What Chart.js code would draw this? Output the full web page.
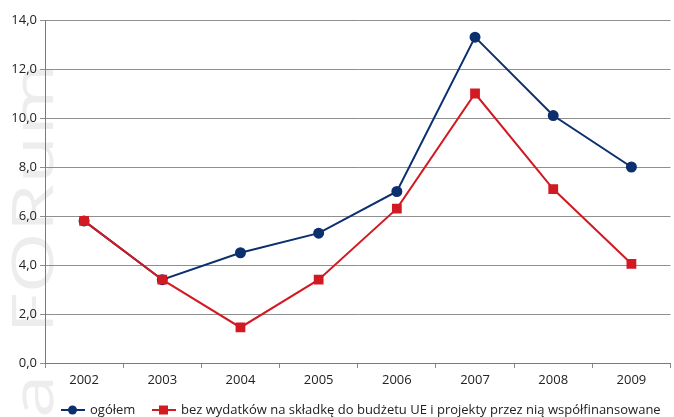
<!DOCTYPE html>
<html>
<head>
<meta charset="utf-8">
<script src="https://cdn.jsdelivr.net/npm/chart.js@4/dist/chart.umd.min.js"></script>
<style>
  html, body { margin: 0; padding: 0; background: #fff; overflow: hidden; }
  #wrap { width: 674px; height: 417px; position: relative; overflow: hidden; }
</style>
</head>
<body>
<div id="wrap"><canvas id="c" width="678" height="417"></canvas></div>
<script>
// Years on the x axis
const years = ['2002', '2003', '2004', '2005', '2006', '2007', '2008', '2009'];
// Total
const ogolem = [5.8, 3.4, 4.5, 5.3, 7.0, 13.3, 10.1, 8.0];
// Excluding EU budget contribution and co-financed projects
const bezWydatkow = [5.8, 3.4, 1.45, 3.4, 6.3, 11.0, 7.1, 4.05];
// Series names
const seriesNames = ['ogółem', 'bez wydatków na składkę do budżetu UE i projekty przez nią współfinansowane'];

const NAVY = '#0c2f6e';
const RED = '#d21a22';
const FONT = '"Open Sans", "Liberation Sans", sans-serif';

// Faint vertical logo text behind the chart
const watermark = {
  id: 'watermark',
  beforeDraw(chart) {
    const ctx = chart.ctx;
    ctx.save();
    ctx.translate(53, 418);
    ctx.rotate(-Math.PI / 2);
    ctx.scale(1.4, 1);
    ctx.fillStyle = '#ededed';
    ctx.font = '56px ' + FONT;
    ctx.textBaseline = 'alphabetic';
    ctx.fillText('a  FORum', 0, 0);
    ctx.restore();
  }
};

// Bottom legend: short line with a marker, followed by the series name
const lineLegend = {
  id: 'lineLegend',
  afterDraw(chart) {
    const ctx = chart.ctx;
    const y = 410;
    const items = [
      { x: 61, ds: chart.data.datasets[0] },
      { x: 152, ds: chart.data.datasets[1] }
    ];
    ctx.save();
    ctx.font = '13px ' + FONT;
    ctx.textBaseline = 'middle';
    items.forEach(it => {
      ctx.strokeStyle = it.ds.borderColor;
      ctx.lineWidth = 2;
      ctx.beginPath();
      ctx.moveTo(it.x, y);
      ctx.lineTo(it.x + 24, y);
      ctx.stroke();
      ctx.fillStyle = it.ds.borderColor;
      const cx = it.x + 11.5;
      if (it.ds.pointStyle === 'rect') {
        ctx.fillRect(cx - 4.5, y - 4.5, 9, 9);
      } else {
        ctx.beginPath();
        ctx.arc(cx, y, 4.5, 0, Math.PI * 2);
        ctx.fill();
      }
      ctx.fillStyle = '#222';
      ctx.fillText(it.ds.label, it.x + 29, y);
    });
    ctx.restore();
  }
};

new Chart(document.getElementById('c'), {
  type: 'line',
  data: {
    labels: years,
    datasets: [
      {
        label: seriesNames[0],
        data: ogolem,
        borderColor: NAVY,
        backgroundColor: NAVY,
        borderWidth: 2,
        pointStyle: 'circle',
        pointRadius: 4.5,
        pointHoverRadius: 4.5,
        tension: 0,
        order: 1
      },
      {
        label: seriesNames[1],
        data: bezWydatkow,
        borderColor: RED,
        backgroundColor: RED,
        borderWidth: 2,
        pointStyle: 'rect',
        pointRadius: 5.5,
        pointHoverRadius: 5.5,
        tension: 0,
        order: 0
      }
    ]
  },
  options: {
    responsive: false,
    animation: false,
    layout: { padding: { top: 20, right: 0, bottom: 30, left: 0 } },
    plugins: {
      legend: { display: false },
      tooltip: { enabled: false }
    },
    scales: {
      x: {
        offset: true,
        grid: {
          offset: true,
          drawOnChartArea: false,
          drawTicks: true,
          tickLength: 5,
          color: '#8a8a8a'
        },
        border: { color: '#7a7a7a', width: 1 },
        ticks: { color: '#222', font: { family: FONT, size: 13 }, padding: 4, maxRotation: 0 },
        afterFit(scale) { scale.height = 24; }
      },
      y: {
        min: 0,
        max: 14,
        ticks: {
          stepSize: 2,
          color: '#222',
          font: { family: FONT, size: 13 },
          padding: 3,
          callback: v => v.toFixed(1).replace('.', ',')
        },
        grid: { color: '#8f8f8f', lineWidth: 1, tickLength: 5 },
        border: { color: '#7a7a7a', width: 1 },
        afterFit(scale) { scale.width = 45; }
      }
    }
  },
  plugins: [watermark, lineLegend]
});
</script>
</body>
</html>
